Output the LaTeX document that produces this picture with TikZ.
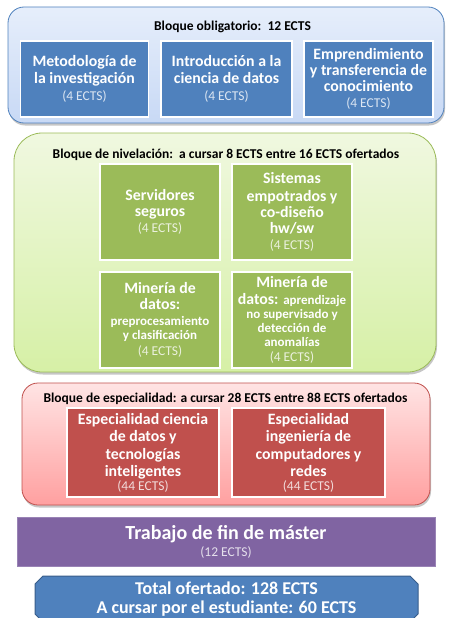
\documentclass[tikz,border=0pt]{standalone}
\usepackage{fontspec}
\setmainfont{Carlito}
\usetikzlibrary{shadows,shapes.misc}
\definecolor{oblue}{HTML}{4F81BD}
\definecolor{ogreen}{HTML}{9BBB59}
\definecolor{ored}{HTML}{C0504D}
\definecolor{opurple}{HTML}{8064A2}
\definecolor{odblue}{HTML}{385D8A}
\definecolor{eblue}{HTML}{DCE6F2}
\definecolor{egreen}{HTML}{EBF1DE}
\definecolor{ered}{HTML}{F2DCDB}
\definecolor{epurple}{HTML}{E5E0EC}
\newcommand{\ectsline}[2]{{\fontsize{13.5}{14}\selectfont\mdseries\color{#1}#2}}
\newcommand{\smallbold}[1]{{\fontsize{13}{14}\selectfont #1}}
\tikzset{
  outerblk/.style={rectangle, draw=#1, line width=0.8pt, drop shadow={opacity=0.45, shadow xshift=1pt, shadow yshift=-2.5pt}},
  blktitle/.style={font=\fontsize{13.5}{15}\selectfont\bfseries, text=black, inner sep=0pt},
  innerbox/.style={rectangle, draw=white, line width=1.5pt, fill=#1, text=white, align=center, inner sep=0pt,
     font=\fontsize{15.8}{16.3}\selectfont\bfseries},
}
\begin{document}
\begin{tikzpicture}[x=1pt,y=-1pt]
\useasboundingbox (0,0) rectangle (448,618);
\clip (0,0) rectangle (448,618);

% Bloque obligatorio
\node[outerblk=oblue, rounded corners=16pt, top color={rgb,255:red,230;green,238;blue,251}, bottom color={rgb,255:red,200;green,217;blue,245},
  minimum width=436pt, minimum height=116pt] (oblig) at (226,65) {};
\node[blktitle, anchor=base] (obligt) at (232.5,30.7) {Bloque obligatorio:\ \ 12 ECTS};
\node[innerbox=oblue, minimum width=128pt, minimum height=76pt] (metod) at (84.5,79)
  {Metodología de\\la investigación\\[0.7pt]\ectsline{eblue}{(4 ECTS)}};
\node[innerbox=oblue, minimum width=131pt, minimum height=76pt] (intro) at (226.5,79)
  {Introducción a la\\ciencia de datos\\[0.7pt]\ectsline{eblue}{(4 ECTS)}};
\node[innerbox=oblue, minimum width=129pt, minimum height=76pt] (empr) at (368.5,79)
  {Emprendimiento\\y transferencia de\\[-1pt]conocimiento\\\ectsline{eblue}{(4 ECTS)}};

% Bloque de nivelacion
\node[outerblk=ogreen, rounded corners=28pt, top color={rgb,255:red,240;green,248;blue,224}, bottom color={rgb,255:red,214;green,240;blue,166},
  minimum width=422pt, minimum height=239pt] (nivel) at (225,252.5) {};
\node[blktitle, anchor=base] (nivelt) at (226,158) {Bloque de nivelación:\ \ a cursar 8 ECTS entre 16 ECTS ofertados};
\node[innerbox=ogreen, minimum width=120pt, minimum height=96pt] (serv) at (160,212)
  {Servidores\\seguros\\\ectsline{egreen}{(4 ECTS)}};
\node[innerbox=ogreen, minimum width=120pt, minimum height=96pt] (sist) at (292,212)
  {Sistemas\\[1.5pt]empotrados y\\co-diseño\\hw/sw\\\ectsline{egreen}{(4 ECTS)}};
\node[innerbox=ogreen, minimum width=120pt, minimum height=96pt] (mine1) at (160,320)
  {Minería de\\datos:\\\smallbold{preprocesamiento}\\[-2.5pt]\smallbold{y clasificación}\\\ectsline{egreen}{(4 ECTS)}};
\node[innerbox=ogreen, minimum width=120pt, minimum height=96pt] (mine2) at (292,320)
  {Minería de\\datos: \smallbold{aprendizaje}\\[-2.3pt]\smallbold{no supervisado y}\\[-2pt]\smallbold{detección de}\\[-2.3pt]\smallbold{anomalías}\\[-1.3pt]\ectsline{egreen}{(4 ECTS)}};

% Bloque de especialidad
\node[outerblk=ored, rounded corners=16pt, top color={rgb,255:red,255;green,228;blue,228}, bottom color={rgb,255:red,255;green,160;blue,160},
  minimum width=408pt, minimum height=122pt] (espec) at (226,444) {};
\node[blktitle, anchor=base] (espect) at (225.5,402) {Bloque de especialidad: a cursar 28 ECTS entre 88 ECTS ofertados};
\node[innerbox=ored, minimum width=152pt, minimum height=89pt, font=\fontsize{15.8}{17.5}\selectfont\bfseries] (espcd) at (143,452.5)
  {Especialidad ciencia\\de datos y\\tecnologías\\inteligentes\\[-4pt]\ectsline{ered}{(44 ECTS)}};
\node[innerbox=ored, minimum width=153pt, minimum height=89pt, font=\fontsize{15.8}{17.5}\selectfont\bfseries] (espic) at (308.5,452.5)
  {Especialidad\\ingeniería de\\computadores y\\redes\\[-4pt]\ectsline{ered}{(44 ECTS)}};

% Trabajo de fin de master
\node[rectangle, fill=opurple, draw=opurple!80!white, line width=0.5pt, minimum width=418pt, minimum height=49pt, text=white, align=center, inner sep=0pt,
  font=\fontsize{20}{17}\selectfont\bfseries] (tfm) at (226,541.5)
  {Trabajo de fin de máster\\\ectsline{epurple}{(12 ECTS)}};

% Total
\node[chamfered rectangle, chamfered rectangle xsep=4pt, chamfered rectangle ysep=4pt, fill=oblue, draw=odblue, line width=1pt,
  minimum width=383pt, minimum height=46pt, text=white, align=center, inner sep=0pt,
  font=\fontsize{18}{19.5}\selectfont\bfseries] (total) at (226.5,599)
  {Total ofertado: 128 ECTS\\A cursar por el estudiante: 60 ECTS};
\end{tikzpicture}
\end{document}
